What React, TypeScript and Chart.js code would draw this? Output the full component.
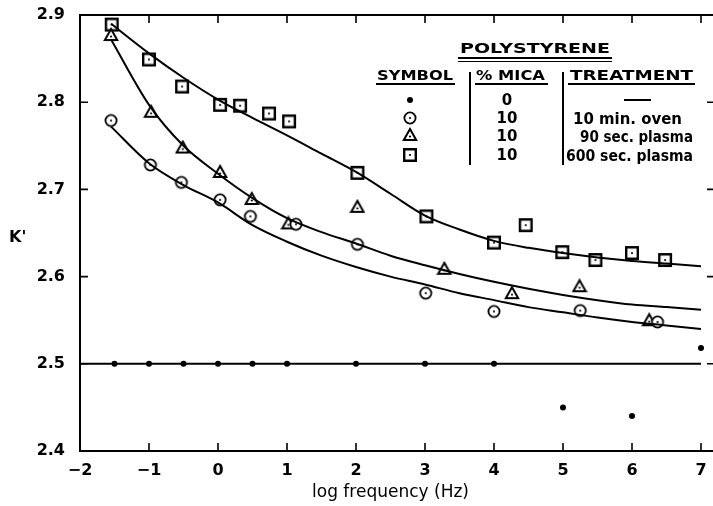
import React, { useEffect, useRef } from 'react';
import { Chart, registerables } from 'chart.js';
Chart.register(...registerables);

// ---------- data ----------
const xTicks = [-2, -1, 0, 1, 2, 3, 4, 5, 6, 7];
const yTicks = [2.4, 2.5, 2.6, 2.7, 2.8, 2.9];

// 0 % mica (filled dots)
const noneX = [-1.5, -1, -0.5, 0, 0.5, 1, 2, 3, 4, 5, 6, 7];
const noneY = [2.5, 2.5, 2.5, 2.5, 2.5, 2.5, 2.5, 2.5, 2.5, 2.45, 2.44, 2.518];
// 10 % mica, 10 min. oven (open circles)
const ovenX = [-1.55, -0.98, -0.53, 0.03, 0.47, 1.13, 2.02, 3.01, 4.0, 5.25, 6.37];
const ovenY = [2.779, 2.728, 2.708, 2.688, 2.669, 2.66, 2.637, 2.581, 2.56, 2.561, 2.548];
// 10 % mica, 90 sec. plasma (triangles)
const p90X = [-1.55, -0.97, -0.51, 0.03, 0.49, 1.02, 2.02, 3.28, 4.26, 5.24, 6.25];
const p90Y = [2.877, 2.789, 2.748, 2.72, 2.689, 2.661, 2.68, 2.609, 2.581, 2.589, 2.55];
// 10 % mica, 600 sec. plasma (squares)
const p600X = [-1.54, -1.0, -0.52, 0.03, 0.32, 0.74, 1.03, 2.02, 3.02, 4.0, 4.46, 4.99, 5.47, 6.0, 6.48];
const p600Y = [2.889, 2.849, 2.818, 2.797, 2.796, 2.787, 2.778, 2.719, 2.669, 2.639, 2.659, 2.628, 2.619, 2.627, 2.619];

// fitted curves
const fitNoneX = [-2, 7];
const fitNoneY = [2.5, 2.5];
const fitX = [-1.55, -1, -0.5, 0, 0.5, 1, 1.5, 2, 2.5, 3, 3.5, 4, 4.5, 5, 5.5, 6, 6.5, 7];
const fitOvenY = [2.772, 2.73, 2.705, 2.685, 2.659, 2.64, 2.624, 2.611, 2.6, 2.591, 2.581, 2.573, 2.565, 2.559, 2.553, 2.548, 2.544, 2.54];
const fit90Y = [2.872, 2.797, 2.75, 2.718, 2.69, 2.667, 2.651, 2.638, 2.624, 2.613, 2.603, 2.594, 2.586, 2.579, 2.573, 2.568, 2.565, 2.562];
const fit600Y = [2.89, 2.856, 2.828, 2.803, 2.782, 2.762, 2.741, 2.72, 2.695, 2.67, 2.654, 2.641, 2.633, 2.627, 2.622, 2.618, 2.615, 2.612];

// legend table text
const legendTitle = 'POLYSTYRENE';
const legendHeaders = ['SYMBOL', '% MICA', 'TREATMENT'];
const legendMica = ['0', '10', '10', '10'];
const legendTreatment = ['', '10 min. oven', '90 sec. plasma', '600 sec. plasma'];

const xTitle = 'log frequency (Hz)';
const yTitle = "K'";

const FONT = '"DejaVu Sans", "Liberation Sans", sans-serif';

function zip(xs: number[], ys: number[]) {
  return xs.map((x, i) => ({ x, y: ys[i] }));
}

function makeMarker(kind: 'circle' | 'triangle' | 'square'): HTMLCanvasElement {
  const c = document.createElement('canvas');
  c.width = 16;
  c.height = 16;
  const g = c.getContext('2d')!;
  g.strokeStyle = '#000';
  g.fillStyle = '#fff';
  g.lineJoin = 'miter';
  g.beginPath();
  if (kind === 'circle') {
    g.lineWidth = 1.8;
    g.arc(8, 8, 5.6, 0, Math.PI * 2);
  } else if (kind === 'triangle') {
    g.lineWidth = 2;
    g.moveTo(8, 2);
    g.lineTo(14.2, 13);
    g.lineTo(1.8, 13);
    g.closePath();
  } else {
    g.lineWidth = 2.4;
    g.rect(2.2, 2.2, 11.6, 11.6);
  }
  g.fill();
  g.stroke();
  g.fillStyle = '#000';
  g.beginPath();
  const cy = kind === 'triangle' ? 9.5 : 8;
  g.arc(8, cy, 1.1, 0, Math.PI * 2);
  g.fill();
  return c;
}

function drawFit(ctx: CanvasRenderingContext2D, text: string, x0: number, x1: number, baseline: number, font: string) {
  ctx.save();
  ctx.font = font;
  ctx.textAlign = 'left';
  ctx.textBaseline = 'alphabetic';
  ctx.fillStyle = '#000';
  const w = ctx.measureText(text).width;
  ctx.translate(x0, baseline);
  ctx.scale((x1 - x0) / w, 1);
  ctx.fillText(text, 0, 0);
  ctx.restore();
}

export default function App() {
  const ref = useRef<HTMLCanvasElement>(null);

  useEffect(() => {
    document.body.style.margin = '0';
    const canvas = ref.current!;
    const mCircle = makeMarker('circle');
    const mTri = makeMarker('triangle');
    const mSq = makeMarker('square');

    const decor = {
      id: 'decor',
      afterDraw(chart: any) {
        const ctx: CanvasRenderingContext2D = chart.ctx;
        const xs = chart.scales.x;
        const ys = chart.scales.y;
        const area = chart.chartArea;
        ctx.save();
        ctx.strokeStyle = '#000';
        ctx.fillStyle = '#000';
        // top frame and bottom extension
        ctx.lineWidth = 2;
        ctx.beginPath();
        ctx.moveTo(area.left - 1, area.top);
        ctx.lineTo(713, area.top);
        ctx.moveTo(area.right, area.bottom);
        ctx.lineTo(713, area.bottom);
        ctx.stroke();
        // inward ticks
        ctx.lineWidth = 1.6;
        ctx.beginPath();
        xTicks.forEach((v) => {
          if (v === xTicks[0]) return;
          const px = xs.getPixelForValue(v);
          ctx.moveTo(px, area.bottom);
          ctx.lineTo(px, area.bottom - 8);
          ctx.moveTo(px, area.top);
          ctx.lineTo(px, area.top + 8);
        });
        yTicks.forEach((v) => {
          const py = ys.getPixelForValue(v);
          ctx.moveTo(area.left, py);
          ctx.lineTo(area.left + 8, py);
          ctx.moveTo(713, py);
          ctx.lineTo(707, py);
        });
        ctx.stroke();

        // y title
        ctx.font = `bold 16px ${FONT}`;
        ctx.textAlign = 'left';
        ctx.textBaseline = 'alphabetic';
        ctx.fillText(yTitle, 9, 242);

        // legend table
        const hf = `bold 14px ${FONT}`;
        const rf = `bold 15px ${FONT}`;
        const rf2 = `bold 16px ${FONT}`;
        drawFit(ctx, legendTitle, 460, 610, 53, hf);
        ctx.lineWidth = 2;
        ctx.beginPath();
        ctx.moveTo(458, 58);
        ctx.lineTo(612, 58);
        ctx.stroke();
        ctx.lineWidth = 1.2;
        ctx.beginPath();
        ctx.moveTo(458, 61.5);
        ctx.lineTo(612, 61.5);
        ctx.stroke();

        drawFit(ctx, legendHeaders[0], 377, 453, 80, hf);
        drawFit(ctx, legendHeaders[1], 476, 545, 80, hf);
        drawFit(ctx, legendHeaders[2], 570, 693, 80, hf);
        ctx.lineWidth = 1.8;
        ctx.beginPath();
        ctx.moveTo(376, 84);
        ctx.lineTo(455, 84);
        ctx.moveTo(475, 84);
        ctx.lineTo(548, 84);
        ctx.moveTo(568, 84);
        ctx.lineTo(695, 84);
        ctx.stroke();
        ctx.lineWidth = 2;
        ctx.beginPath();
        ctx.moveTo(470, 72);
        ctx.lineTo(470, 165);
        ctx.moveTo(563, 72);
        ctx.lineTo(563, 165);
        ctx.stroke();

        const rowY = [100, 118, 136, 155];
        // symbols
        ctx.beginPath();
        ctx.arc(410, rowY[0], 3, 0, Math.PI * 2);
        ctx.fill();
        ctx.drawImage(mCircle, 402, rowY[1] - 8);
        ctx.drawImage(mTri, 402, rowY[2] - 9);
        ctx.drawImage(mSq, 402, rowY[3] - 8);
        // mica
        ctx.font = rf;
        ctx.textAlign = 'center';
        ctx.textBaseline = 'middle';
        legendMica.forEach((t, i) => ctx.fillText(t, 507, rowY[i] + 1));
        // treatment
        ctx.lineWidth = 2;
        ctx.beginPath();
        ctx.moveTo(624, rowY[0]);
        ctx.lineTo(651, rowY[0]);
        ctx.stroke();
        drawFit(ctx, legendTreatment[1], 573, 682, rowY[1] + 6, rf2);
        drawFit(ctx, legendTreatment[2], 580, 693, rowY[2] + 6, rf2);
        drawFit(ctx, legendTreatment[3], 566, 693, rowY[3] + 6, rf2);
        ctx.restore();
      },
    };

    const curve = (xs: number[], ys: number[]) => ({
      data: zip(xs, ys),
      showLine: true,
      borderColor: '#000',
      borderWidth: 2,
      pointRadius: 0,
      tension: 0.4,
      cubicInterpolationMode: 'monotone',
      fill: false,
    });

    const chart = new Chart(canvas, {
      type: 'scatter',
      data: {
        datasets: [
          curve(fitNoneX, fitNoneY) as any,
          curve(fitX, fitOvenY) as any,
          curve(fitX, fit90Y) as any,
          curve(fitX, fit600Y) as any,
          {
            data: zip(noneX, noneY),
            pointStyle: 'circle',
            pointRadius: 3,
            backgroundColor: '#000',
            borderColor: '#000',
            borderWidth: 0,
            clip: false,
          } as any,
          { data: zip(ovenX, ovenY), pointStyle: mCircle as any, pointRadius: 7, clip: false } as any,
          { data: zip(p90X, p90Y), pointStyle: mTri as any, pointRadius: 7, clip: false } as any,
          { data: zip(p600X, p600Y), pointStyle: mSq as any, pointRadius: 7, clip: false } as any,
        ],
      },
      options: {
        responsive: false,
        animation: false,
        devicePixelRatio: 1,
        layout: { padding: { left: 0, top: 15, right: 12, bottom: 0 } },
        plugins: { legend: { display: false }, tooltip: { enabled: false } },
        scales: {
          x: {
            type: 'linear',
            min: -2,
            max: 7,
            grid: { display: false, drawTicks: false },
            border: { display: true, color: '#000', width: 2 },
            afterBuildTicks: (s: any) => {
              s.ticks = xTicks.map((v) => ({ value: v }));
            },
            afterFit: (s: any) => {
              s.height = 55;
              s.paddingLeft = 0;
              s.paddingRight = 0;
            },
            ticks: {
              color: '#000',
              padding: 10,
              maxRotation: 0,
              autoSkip: false,
              font: { family: FONT, size: 16, weight: 'bold' },
              callback: (v: any) => (v < 0 ? '\u2212' + Math.abs(v) : String(v)),
            },
            title: {
              display: true,
              text: xTitle,
              color: '#000',
              font: { family: FONT, size: 17 },
              padding: { top: 0, bottom: 3 },
            },
          },
          y: {
            type: 'linear',
            min: 2.4,
            max: 2.9,
            grid: { display: false, drawTicks: false },
            border: { display: true, color: '#000', width: 2 },
            afterBuildTicks: (s: any) => {
              s.ticks = yTicks.map((v) => ({ value: v }));
            },
            afterFit: (s: any) => {
              s.width = 80;
              s.paddingTop = 0;
              s.paddingBottom = 0;
            },
            ticks: {
              color: '#000',
              padding: 15,
              autoSkip: false,
              font: { family: FONT, size: 16, weight: 'bold' },
              callback: (v: any) => Number(v).toFixed(1),
            },
          },
        },
      },
      plugins: [decor],
    });
    return () => chart.destroy();
  }, []);

  return (
    <div style={{ width: 713, height: 506 }}>
      <canvas ref={ref} width={713} height={506} style={{ display: 'block' }} />
    </div>
  );
}
